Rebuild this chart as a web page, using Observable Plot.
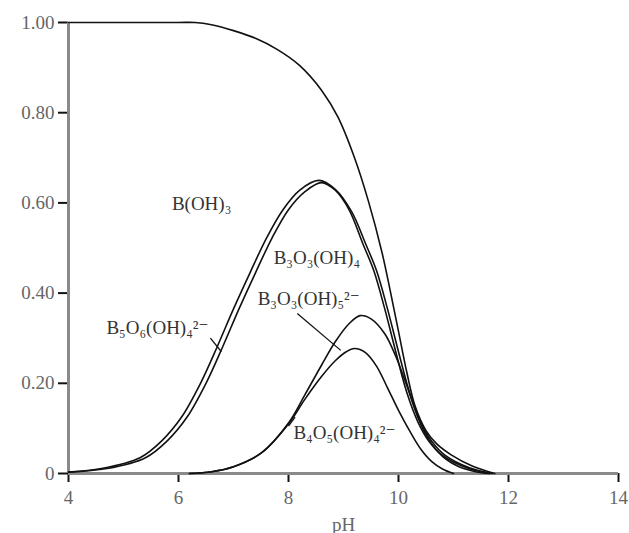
<!DOCTYPE html>
<html><head><meta charset="utf-8">
<script src="https://cdn.jsdelivr.net/npm/d3@7"></script>
<script src="https://cdn.jsdelivr.net/npm/@observablehq/plot@0.6"></script>
<style>body{margin:0;background:#fff}</style>
</head><body><div id="chart"></div>
<script>
// B(OH)3
const bohPH = [4, 5, 6, 6.3, 6.6, 7.0, 7.4, 7.8, 8.2, 8.6, 8.9, 9.2, 9.45, 9.7, 9.85, 10.0, 10.15, 10.3, 10.5, 10.7, 10.95, 11.35, 11.75];
const bohY  = [1, 1, 1, 1.0, 0.995, 0.982, 0.965, 0.94, 0.905, 0.85, 0.79, 0.70, 0.605, 0.49, 0.405, 0.315, 0.225, 0.15, 0.095, 0.065, 0.042, 0.016, 0];
// B5O6(OH)4
const b5PH = [4, 4.6, 5.3, 5.7, 6.05, 6.4, 6.7, 7.0, 7.3, 7.6, 7.9, 8.2, 8.55, 8.85, 9.15, 9.4, 9.6, 9.8, 10.0, 10.2, 10.4, 10.6, 10.85, 11.3, 11.7];
const b5Y  = [0.003, 0.011, 0.035, 0.073, 0.124, 0.2, 0.28, 0.365, 0.445, 0.522, 0.585, 0.628, 0.65, 0.63, 0.58, 0.51, 0.45, 0.365, 0.27, 0.18, 0.115, 0.072, 0.04, 0.012, 0];
// B3O3(OH)4
const b3aPH = [4, 4.7, 5.4, 5.8, 6.15, 6.5, 6.8, 7.1, 7.4, 7.7, 8.0, 8.3, 8.6, 8.85, 9.1, 9.35, 9.55, 9.75, 9.95, 10.15, 10.35, 10.55, 10.8, 11.25, 11.65];
const b3aY  = [0.003, 0.011, 0.035, 0.073, 0.124, 0.2, 0.28, 0.365, 0.445, 0.522, 0.585, 0.625, 0.645, 0.628, 0.585, 0.51, 0.45, 0.365, 0.27, 0.18, 0.115, 0.072, 0.04, 0.012, 0];
// B3O3(OH)5 2-
const b3bPH = [6.2, 6.6, 7.0, 7.5, 8.0, 8.3, 8.6, 8.85, 9.1, 9.3, 9.5, 9.75, 9.95, 10.15, 10.35, 10.55, 10.8, 11.1, 11.4, 11.65];
const b3bY  = [0, 0.004, 0.015, 0.045, 0.112, 0.175, 0.24, 0.292, 0.332, 0.35, 0.343, 0.31, 0.26, 0.195, 0.125, 0.075, 0.038, 0.015, 0.004, 0];
// B4O5(OH)4 2-
const b4PH = [6.2, 6.6, 7.0, 7.5, 8.0, 8.3, 8.6, 8.85, 9.05, 9.2, 9.4, 9.6, 9.8, 10.0, 10.2, 10.4, 10.6, 10.8, 11.0];
const b4Y  = [0, 0.004, 0.015, 0.045, 0.11, 0.165, 0.215, 0.25, 0.27, 0.277, 0.268, 0.238, 0.19, 0.14, 0.095, 0.055, 0.027, 0.01, 0];

const labelText = ["B(OH)₃", "B₃O₃(OH)₄", "B₃O₃(OH)₅²⁻", "B₅O₆(OH)₄²⁻", "B₄O₅(OH)₄²⁻"];
const labelPH   = [5.88, 7.73, 7.44, 4.69, 8.09];
const labelY    = [0.598, 0.479, 0.388, 0.322, 0.091];

const leaderPH1 = [6.58, 8.16, 8.12];
const leaderY1  = [0.300, 0.355, 0.125];
const leaderPH2 = [6.78, 8.95, 8.0];
const leaderY2  = [0.270, 0.273, 0.105];

const xTicks = [4, 6, 8, 10, 12, 14];
const yTicks = [0, 0.2, 0.4, 0.6, 0.8, 1.0];

const mk = (xs, ys, name) => xs.map((x, i) => ({pH: x, v: ys[i], s: name}));
const series = [
  mk(bohPH, bohY, "boh"), mk(b5PH, b5Y, "b5"), mk(b3aPH, b3aY, "b3a"),
  mk(b3bPH, b3bY, "b3b"), mk(b4PH, b4Y, "b4")
];
const labels = labelText.map((t, i) => ({t, x: labelPH[i], y: labelY[i]}));
const leaders = leaderPH1.map((x, i) => ({x1: x, y1: leaderY1[i], x2: leaderPH2[i], y2: leaderY2[i]}));

const chart = Plot.plot({
  width: 629, height: 533,
  marginLeft: 68, marginRight: 11, marginTop: 22, marginBottom: 60,
  style: {fontFamily: "'Liberation Serif', 'DejaVu Serif', serif", fontSize: "19px", background: "#fff"},
  x: {domain: [4, 14]},
  y: {domain: [0, 1]},
  marks: [
    Plot.axisY({ticks: yTicks, tickSize: 10, tickPadding: 4, stroke: "#111", strokeWidth: 2, fill: "#666",
      tickFormat: d => d === 0 ? "0" : d.toFixed(2), label: null, fontSize: 19, letterSpacing: "2px"}),
    Plot.axisX({ticks: xTicks, tickSize: 9, tickPadding: 8, stroke: "#111", strokeWidth: 2, fill: "#666",
      label: "pH", labelAnchor: "center", labelArrow: "none", labelOffset: 57, fontSize: 19, letterSpacing: "1px"}),
    Plot.ruleX([4], {y1: 0, y2: 1, stroke: "#8a8a8a", strokeWidth: 3}),
    Plot.ruleY([0], {x1: 4, x2: 14, stroke: "#8a8a8a", strokeWidth: 3}),
    ...series.map(d => Plot.line(d, {x: "pH", y: "v", curve: "catmull-rom", stroke: "#111", strokeWidth: 1.6})),
    Plot.link(leaders, {x1: "x1", y1: "y1", x2: "x2", y2: "y2", stroke: "#111", strokeWidth: 1.3}),
    Plot.text(labels, {x: "x", y: "y", text: "t", textAnchor: "start", fill: "#333", fontSize: 19})
  ]
});
document.getElementById("chart").append(chart);
</script>
</body></html>
